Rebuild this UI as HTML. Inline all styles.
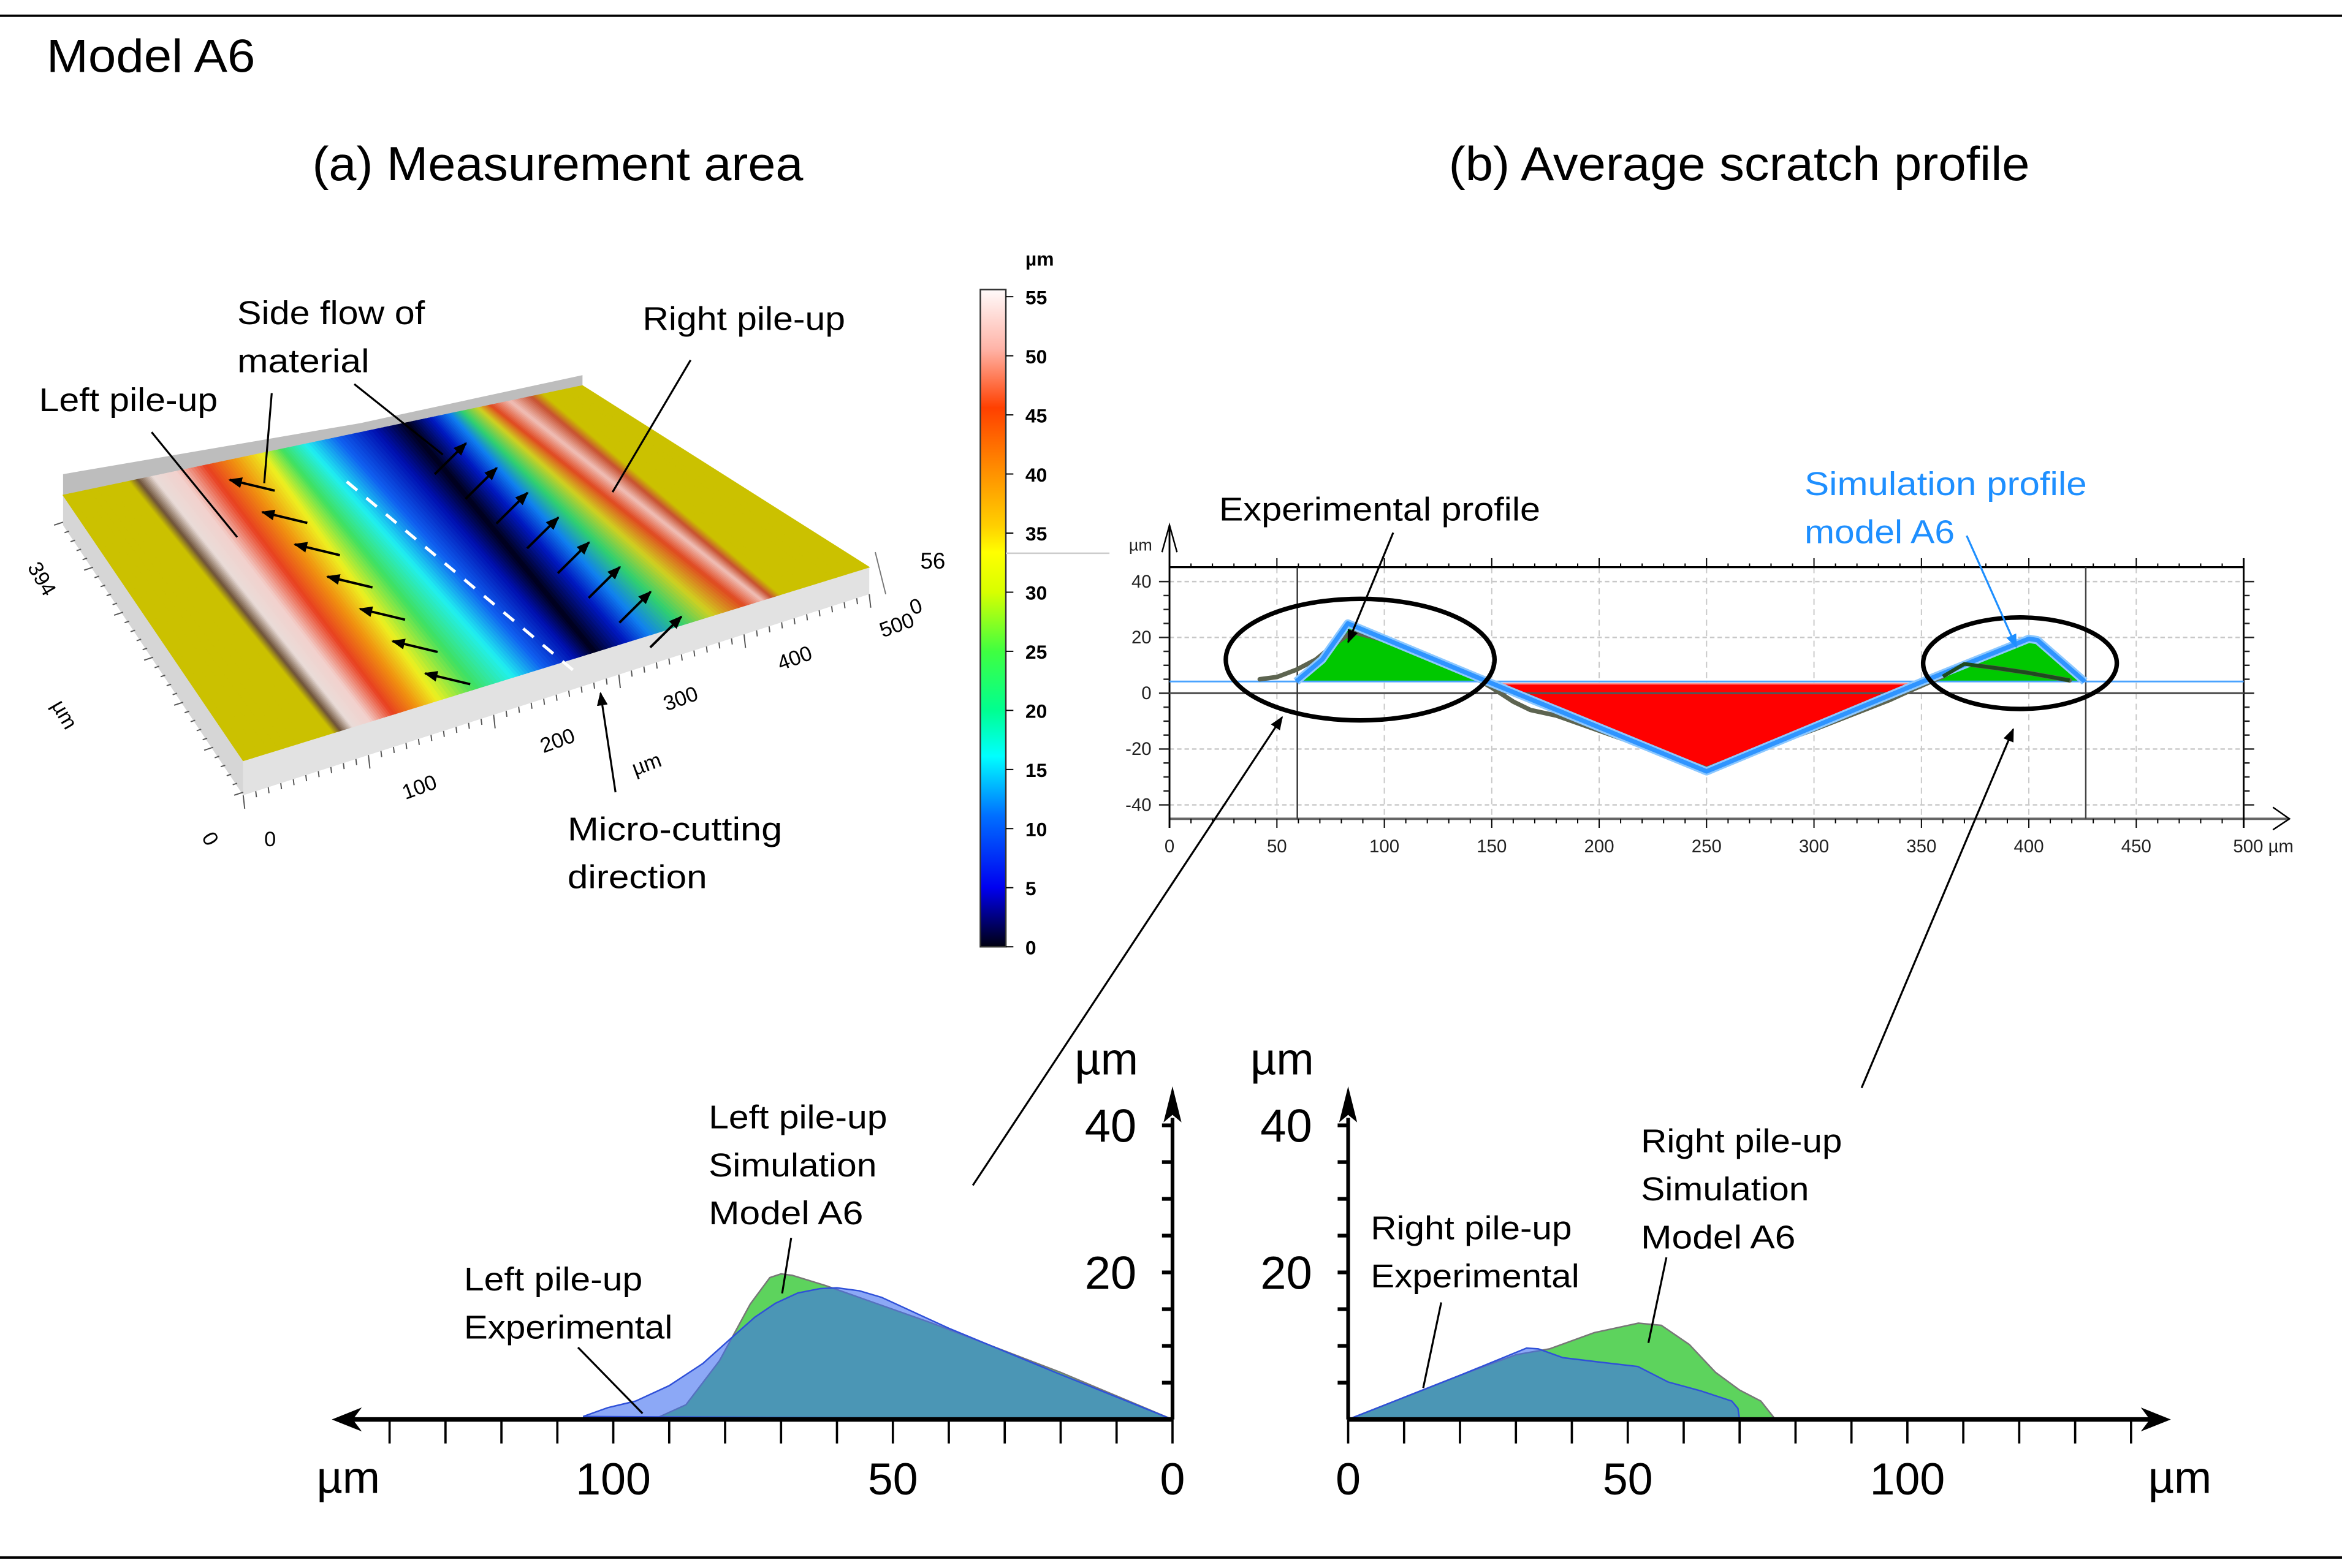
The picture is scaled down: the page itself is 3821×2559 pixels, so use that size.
<!DOCTYPE html>
<html><head><meta charset="utf-8"><style>
html,body{margin:0;padding:0;background:#fff;}
svg{display:block;}
text{font-family:"Liberation Sans",sans-serif;}
</style></head><body>
<svg id="root" xmlns="http://www.w3.org/2000/svg" width="3821" height="2559" viewBox="0 0 1560 1045" preserveAspectRatio="none">
<defs>
<marker id="ah" viewBox="0 0 10 10" refX="9" refY="5" markerWidth="9" markerHeight="9" markerUnits="userSpaceOnUse" orient="auto"><path d="M0,1 L10,5 L0,9 z" fill="#000"/></marker>
<marker id="ahb" viewBox="0 0 10 10" refX="9" refY="5" markerWidth="9" markerHeight="9" markerUnits="userSpaceOnUse" orient="auto"><path d="M0,1 L10,5 L0,9 z" fill="#1e8fff"/></marker>
<linearGradient id="cbar" x1="0" y1="0" x2="0" y2="1">
<stop offset="0" stop-color="#fffafa"/><stop offset="0.09" stop-color="#ffb4a8"/><stop offset="0.18" stop-color="#ff4000"/><stop offset="0.27" stop-color="#ff8a00"/><stop offset="0.36" stop-color="#ffd000"/><stop offset="0.40" stop-color="#ffff00"/><stop offset="0.46" stop-color="#d8ff00"/><stop offset="0.55" stop-color="#40ff40"/><stop offset="0.64" stop-color="#00ff90"/><stop offset="0.71" stop-color="#00ffff"/><stop offset="0.80" stop-color="#0070ff"/><stop offset="0.91" stop-color="#0000f0"/><stop offset="1" stop-color="#000010"/>
</linearGradient>
</defs>
<line x1="0" y1="10.5" x2="1560" y2="10.5" stroke="#000" stroke-width="1.6"/>
<line x1="0" y1="1038" x2="1560" y2="1038" stroke="#000" stroke-width="1.6"/>
<text x="31" y="48" font-size="31" textLength="139" lengthAdjust="spacingAndGlyphs">Model A6</text>
<text x="208" y="120" font-size="32" textLength="327" lengthAdjust="spacingAndGlyphs">(a) Measurement area</text>
<text x="965" y="120" font-size="32" textLength="387" lengthAdjust="spacingAndGlyphs">(b) Average scratch profile</text>

<g id="surf"></g>
<g id="cb"></g>
<g id="chartb"></g>
<g id="chl"></g>
<g id="chr"></g>
<g id="ann"></g>
</svg>
<script>
// ---------- Profile chart (b) data ----------
const simX = [0, 59, 71, 83, 147, 250, 350, 400, 404, 426, 500];
const simY = [4.2, 4.2, 12, 25, 4.5, -28, 4, 19.5, 19, 4.2, 4.2];
const expX = [42, 50, 59, 68, 76, 85, 100, 120, 140, 150, 160, 168, 180, 250, 300, 320, 335, 345, 360, 370, 385, 399, 419];
const expY = [5, 5.8, 8.4, 12, 17, 22, 19, 13, 6.5, 2, -3, -6, -8, -27, -13, -7, -2.5, 1, 6, 10.5, 9, 7.4, 4.6];
const redX = [149, 250, 348];
const redY = [3.4, -28, 3.4];
const bXTicks = [0, 50, 100, 150, 200, 250, 300, 350, 400, 450, 500];
const bYTicks = [40, 20, 0, -20, -40];
// ---------- bottom charts data ----------
const leftSimD = [0, 20, 43, 62, 68, 70, 72, 75.5, 81, 87, 92.8];
const leftSimH = [0, 6.4, 13.1, 18.2, 19.6, 19.8, 19.3, 15.7, 8, 2, 0];
const leftExpD = [0, 20.6, 40, 52, 56, 60, 63, 67, 71, 74.7, 79, 84, 90, 96, 101, 105.4];
const leftExpH = [0, 6.3, 12.4, 16.6, 17.5, 17.9, 17.8, 17.2, 15.8, 13.9, 11, 7.6, 4.6, 2.5, 1.6, 0.4];
const rightSimD = [0, 10, 20, 30, 36, 44, 51.9, 56, 61, 65.7, 70, 73.8, 76.4];
const rightSimH = [0, 3, 6, 8.8, 9.6, 11.8, 13.1, 12.8, 10.2, 6.4, 4, 2.5, 0];
const rightExpD = [0, 10, 20, 31.9, 34, 38.4, 45, 51.8, 57.2, 63, 68.6, 69.7, 70];
const rightExpH = [0, 3, 6, 9.7, 9.6, 8.4, 7.8, 7.2, 5.1, 3.9, 2.5, 1.5, 0];
const bottomXTicks = [0, 50, 100];
const bottomYTicks = [20, 40];
// ---------- 3D surface colour bands (image, not chart data) ----------
const bandCol = ['#cbc100','#cbc100','#6e5238','#eadcd8','#f2d0cc','#e84020','#f09010','#eef020','#40e060','#20f0f0','#1060f0','#0010b0','#000018','#0018c0','#1080f0','#30d070','#d0d020','#e04820','#f0c0b8','#c85030','#cbc100','#cbc100'];
const bandBack = [42,86,92,102,118,137,155,175,188,204,225,250,271,287,300,308,319,327,340,354,362,388];
const bandFront = [162,222,227,235,247,262,277,292,317,342,362,383,396,417,433,454,475,496,508,514,520,579];
const colorbarTicks = [55,50,45,40,35,30,25,20,15,10,5,0];

const NS = 'http://www.w3.org/2000/svg';
function E(parent, tag, attrs, name, inter) {
  const el = document.createElementNS(NS, tag);
  for (const k in attrs) el.setAttribute(k, attrs[k]);
  
  
  parent.appendChild(el);
  return el;
}
function T(parent, x, y, s, size, name, opts) {
  opts = opts || {};
  const el = document.createElementNS(NS, 'text');
  el.setAttribute('x', x); el.setAttribute('y', y);
  el.setAttribute('font-size', size);
  if (opts.anchor) el.setAttribute('text-anchor', opts.anchor);
  if (opts.fill) el.setAttribute('fill', opts.fill);
  if (opts.len) { el.setAttribute('textLength', opts.len); el.setAttribute('lengthAdjust', 'spacingAndGlyphs'); }
  if (opts.tr) el.setAttribute('transform', opts.tr);
  if (opts.bold) el.setAttribute('font-weight', 'bold');
  el.textContent = s;
  
  
  parent.appendChild(el);
  return el;
}
function hex2rgb(h){return [parseInt(h.substr(1,2),16),parseInt(h.substr(3,2),16),parseInt(h.substr(5,2),16)];}
function mix(a,b,t){const A=hex2rgb(a),B=hex2rgb(b);return 'rgb('+A.map((v,i)=>Math.round(v+(B[i]-v)*t)).join(',')+')';}

// ===== 3D surface =====
(function(){
  const g = document.getElementById('surf');
  const A=[42,330], B=[388,257], C=[579,378], D=[162,507];
  const backY = x => A[1] + (x - A[0]) * (B[1]-A[1])/(B[0]-A[0]);
  const frontY = x => D[1] + (x - D[0]) * (C[1]-D[1])/(C[0]-D[0]);
  E(g,'polygon',{points:'42,316 240,282 388,250 388,257 42,330',fill:'#bdbdbd'},'back-wall');
  E(g,'polygon',{points:'42,330 162,507 162,530 42,350',fill:'#d6d6d6'},'left-side-wall');
  E(g,'polygon',{points:'162,507 579,378 579,396 162,530',fill:'#e2e2e2'},'front-side-wall');
  const N=10;
  for (let i=0;i<bandBack.length-1;i++){
    for (let s=0;s<N;s++){
      const t1=s/N, t2=(s+1)/N;
      const b1=bandBack[i]+(bandBack[i+1]-bandBack[i])*t1, b2=bandBack[i]+(bandBack[i+1]-bandBack[i])*t2;
      const f1=bandFront[i]+(bandFront[i+1]-bandFront[i])*t1, f2=bandFront[i]+(bandFront[i+1]-bandFront[i])*t2;
      const col=mix(bandCol[i],bandCol[i+1],(t1+t2)/2);
      E(g,'polygon',{points:`${b1},${backY(b1)} ${b2},${backY(b2)} ${f2},${frontY(f2)} ${f1},${frontY(f1)}`,fill:col,stroke:col,'stroke-width':0.5},'surface-band');
    }
  }
  for (let k=0;k<7;k++){
    const tx=183+21.7*k, ty=327+21.5*k;
    E(g,'line',{x1:tx,y1:ty,x2:tx-30,y2:ty-7.2,stroke:'#000','stroke-width':1.6,'marker-end':'url(#ah)'},'side-flow-arrow-left');
  }
  for (let k=0;k<8;k++){
    const tx=289.6+20.5*k, ty=316+16.5*k;
    E(g,'line',{x1:tx,y1:ty,x2:tx+20.8,y2:ty-20.6,stroke:'#000','stroke-width':1.6,'marker-end':'url(#ah)'},'side-flow-arrow-right');
  }
  E(g,'line',{x1:231,y1:321,x2:387,y2:451,stroke:'#fff','stroke-width':2,'stroke-dasharray':'9,8'},'cutting-direction-dashes');
  for (let k=0;k<=30;k++){
    const x=42+120*k/30, y=348+(530-350)*k/30;
    E(g,'line',{x1:x,y1:y,x2:x-(k%5?3:6),y2:y+(k%5?1:2),stroke:'#555','stroke-width':0.8},'axis-tick');
  }
  for (let k=0;k<=50;k++){
    const x=162+(579-162)*k/50, y=530+(396-530)*k/50;
    E(g,'line',{x1:x,y1:y,x2:x+(k%10?0.5:1),y2:y+(k%10?4:9),stroke:'#555','stroke-width':0.8},'axis-tick');
  }
  E(g,'line',{x1:583,y1:368,x2:590,y2:396,stroke:'#777','stroke-width':0.8},'z-axis');
  T(g,18,378,'394',14,'y-axis-max-label',{tr:'rotate(60 18 378)'});
  T(g,34,470,'µm',14,'y-axis-unit',{tr:'rotate(60 34 470)'});
  T(g,134,558,'0',14,'y-axis-zero',{tr:'rotate(60 134 558)'});
  T(g,176,564,'0',14,'x-axis-zero');
  T(g,270,533,'100',14,'x-tick-100',{tr:'rotate(-20 270 533)'});
  T(g,362,502,'200',14,'x-tick-200',{tr:'rotate(-20 362 502)'});
  T(g,423,517,'µm',14,'x-axis-unit',{tr:'rotate(-20 423 517)'});
  T(g,444,474,'300',14,'x-tick-300',{tr:'rotate(-20 444 474)'});
  T(g,520,447,'400',14,'x-tick-400',{tr:'rotate(-20 520 447)'});
  T(g,588,425,'500',14,'x-tick-500',{tr:'rotate(-20 588 425)'});
  T(g,608,410,'0',14,'z-tick-0',{tr:'rotate(-20 608 410)'});
  T(g,613,379,'56',15,'z-tick-56');
})();

// ===== colorbar =====
(function(){
  const g=document.getElementById('cb');
  const y0=193, y1=631;
  E(g,'rect',{x:653,y:y0,width:17,height:y1-y0,fill:'url(#cbar)',stroke:'#333','stroke-width':1},'colorbar-gradient');
  const sy = v => y1 - (v/55.6)*(y1-y0);
  colorbarTicks.forEach(v=>{
    E(g,'line',{x1:670,y1:sy(v),x2:675,y2:sy(v),stroke:'#000','stroke-width':0.8},'colorbar-tick');
    T(g,683,sy(v)+5,String(v),13,'colorbar-label',{bold:true});
  });
  T(g,683,177,'µm',13,'colorbar-unit',{bold:true});
  E(g,'line',{x1:670,y1:368.7,x2:739,y2:368.7,stroke:'#ccc','stroke-width':1},'colorbar-pointer');
})();

// ===== chart b =====
(function(){
  const g=document.getElementById('chartb');
  const X = v => 779 + v*1.431;
  const Y = v => 462 - v*1.86;
  const top=378, bot=545.7;
  bXTicks.forEach(v=>{ if(v>0&&v<500) E(g,'line',{x1:X(v),y1:top,x2:X(v),y2:bot,stroke:'#c8c8c8','stroke-width':0.8,'stroke-dasharray':'4,3'},'grid-vertical'); });
  bYTicks.forEach(v=>{ if(v!==0) E(g,'line',{x1:X(0),y1:Y(v),x2:X(500),y2:Y(v),stroke:'#c8c8c8','stroke-width':1,'stroke-dasharray':'3,2'},'grid-horizontal'); });
  const seg = (xs,ys,a,b)=>{
    let pts=[];
    for(let i=0;i<xs.length;i++) if(xs[i]>=a&&xs[i]<=b) pts.push([X(xs[i]),Y(ys[i])]);
    return pts;
  };
  let lp = seg(simX,simY,59,147);
  E(g,'polygon',{points:[[X(59),Y(4)],...lp,[X(147),Y(4)]].map(p=>p.join(',')).join(' '),fill:'#00c800'},'left-pileup-area');
  let rp = seg(simX,simY,350,426);
  E(g,'polygon',{points:[[X(352),Y(4)],...rp,[X(426),Y(4)]].map(p=>p.join(',')).join(' '),fill:'#00c800'},'right-pileup-area');
  E(g,'polygon',{points:redX.map((v,i)=>X(v)+','+Y(redY[i])).join(' '),fill:'#ff0000'},'groove-area');
  E(g,'line',{x1:X(149),y1:Y(3.4),x2:X(348),y2:Y(3.4),stroke:'#ff9090','stroke-width':1},'groove-top-edge');
  E(g,'line',{x1:X(0),y1:top,x2:X(500),y2:top,stroke:'#000','stroke-width':1.3},'frame-top');
  E(g,'line',{x1:X(0),y1:bot,x2:1525,y2:bot,stroke:'#666','stroke-width':1.6},'x-axis-line');
  E(g,'polyline',{points:`1514,538 1525,545.7 1514,553`,fill:'none',stroke:'#000','stroke-width':1},'x-axis-arrow');
  E(g,'line',{x1:X(500),y1:top-6,x2:X(500),y2:bot+6,stroke:'#000','stroke-width':1.2},'frame-right');
  E(g,'line',{x1:X(0),y1:bot+6,x2:X(0),y2:350,stroke:'#000','stroke-width':1.2},'y-axis-line');
  E(g,'polyline',{points:`${X(0)-5},368 ${X(0)},350 ${X(0)+5},368`,fill:'none',stroke:'#000','stroke-width':1},'y-axis-arrow');
  E(g,'line',{x1:X(0),y1:Y(0),x2:X(500),y2:Y(0),stroke:'#555','stroke-width':1.4},'zero-line');
  E(g,'line',{x1:X(59.5),y1:top,x2:X(59.5),y2:bot,stroke:'#333','stroke-width':1},'left-cursor');
  E(g,'line',{x1:X(426.5),y1:top,x2:X(426.5),y2:bot,stroke:'#444','stroke-width':1},'right-cursor');
  for(let v=0;v<=500;v+=10){
    const big = v%50===0;
    E(g,'line',{x1:X(v),y1:top,x2:X(v),y2:top-(big?6:2.5),stroke:'#000','stroke-width':0.8},'top-tick');
    E(g,'line',{x1:X(v),y1:bot,x2:X(v),y2:bot+(big?6:3),stroke:'#000','stroke-width':0.8},'bottom-tick');
  }
  for(let v=-40;v<=40;v+=5){
    E(g,'line',{x1:X(0),y1:Y(v),x2:X(0)-(v%20===0?7:4),y2:Y(v),stroke:'#222','stroke-width':1},'left-tick');
    E(g,'line',{x1:X(500),y1:Y(v),x2:X(500)+(v%20===0?7:4),y2:Y(v),stroke:'#222','stroke-width':1},'right-tick');
  }
  bXTicks.forEach(v=>{
    T(g,v===500?X(v)-7:X(v),568,v===500?'500 µm':String(v),12,'x-tick-label',{anchor:v===500?'start':'middle',fill:'#222'});
  });
  bYTicks.forEach(v=>{ T(g,X(0)-12,Y(v)+4,String(v),12,'y-tick-label',{anchor:'end',fill:'#222'}); });
  T(g,752,367,'µm',11,'y-axis-unit',{fill:'#222'});
  E(g,'line',{x1:X(0),y1:Y(4.2),x2:X(500),y2:Y(4.2),stroke:'#4aa3ff','stroke-width':1.2},'sim-baseline');
  E(g,'polyline',{points:expX.map((v,i)=>X(v)+','+Y(expY[i])).join(' '),fill:'none',stroke:'#5d6450','stroke-width':3,'stroke-linejoin':'round','stroke-linecap':'round'},'experimental-profile-line');
  const simPts = simX.map((v,i)=>[v,simY[i]]).filter(p=>p[0]>=59&&p[0]<=426).map(p=>X(p[0])+','+Y(p[1])).join(' ');
  E(g,'polyline',{points:simPts,fill:'none',stroke:'#8cc8ff','stroke-width':5.5,'stroke-linejoin':'round'},'simulation-profile-halo');
  E(g,'polyline',{points:simPts,fill:'none',stroke:'#2f94ff','stroke-width':3,'stroke-linejoin':'round'},'simulation-profile-line');
  E(g,'polyline',{points:expX.map((v,i)=>[v,expY[i]]).filter(p=>p[0]>=360).map(p=>X(p[0])+','+Y(p[1])).join(' '),fill:'none',stroke:'#1f4a1f','stroke-width':2.5},'experimental-right-line');
  E(g,'ellipse',{cx:906,cy:439.6,rx:89.5,ry:40.5,fill:'none',stroke:'#000','stroke-width':3},'left-pileup-highlight');
  E(g,'ellipse',{cx:1345.5,cy:442,rx:64.5,ry:30.5,fill:'none',stroke:'#000','stroke-width':3},'right-pileup-highlight');
})();

// ===== bottom charts =====
function bottomChart(gid, x0, dir, simD, simH, expD, expH, side){
  const g=document.getElementById(gid);
  const base=946;
  const X = d => x0 + dir*d*3.725;
  const Y = h => base - h*4.9;
  const poly = (ds,hs) => ds.map((d,i)=>X(d)+','+Y(hs[i])).join(' ');
  E(g,'polygon',{points:poly(simD,simH),fill:'#5dd35d',stroke:'#777','stroke-width':1},side+'-simulation-area');
  E(g,'polygon',{points:poly(expD,expH),fill:'#3f6ef0','fill-opacity':0.6,stroke:'#2f50d8','stroke-width':1},side+'-experimental-area');
  const xEnd = dir<0 ? 221 : 1446;
  E(g,'line',{x1:x0,y1:base,x2:xEnd-dir*10,y2:base,stroke:'#000','stroke-width':3},side+'-x-axis');
  E(g,'polygon',{points:`${xEnd},${base} ${xEnd-dir*20},${base-8} ${xEnd-dir*14},${base} ${xEnd-dir*20},${base+8}`,fill:'#000'},side+'-x-arrow');
  for(let d=0; d<=140; d+=10){
    const x=X(d); if ((dir<0 && x<230) || (dir>0 && x>1440)) break;
    E(g,'line',{x1:x,y1:base,x2:x,y2:base+16,stroke:'#000','stroke-width':1.5},side+'-x-tick');
  }
  bottomXTicks.forEach(v=>{ T(g,X(v),996,String(v),30,side+'-x-label',{anchor:'middle'}); });
  T(g, dir<0?232:1452, 995, 'µm', 30, side+'-x-unit', {anchor:'middle'});
  E(g,'line',{x1:x0,y1:base,x2:x0,y2:745,stroke:'#000','stroke-width':2.5},side+'-y-axis');
  E(g,'polygon',{points:`${x0},724 ${x0-6},748 ${x0},743 ${x0+6},748`,fill:'#000'},side+'-y-arrow');
  for(let h=5;h<=40;h+=5){
    E(g,'line',{x1:x0,y1:Y(h),x2:x0-7,y2:Y(h),stroke:'#000','stroke-width':2.5},side+'-y-tick');
  }
  bottomYTicks.forEach(v=>{ T(g,x0-24,Y(v)+11,String(v),31,side+'-y-label',{anchor:'end'}); });
  T(g,x0-44,716,'µm',30,side+'-y-unit',{anchor:'middle'});
}
bottomChart('chl', 781, -1, leftSimD, leftSimH, leftExpD, leftExpH, 'left');
bottomChart('chr', 898, 1, rightSimD, rightSimH, rightExpD, rightExpH, 'right');

// ===== annotations =====
(function(){
  const g=document.getElementById('ann');
  const L=(x1,y1,x2,y2,name,arrow,col)=>E(g,'line',{x1,y1,x2,y2,stroke:col||'#000','stroke-width':1.3,'marker-end':arrow?(col?'url(#ahb)':'url(#ah)'):'none'},name);
  const fs=22;
  T(g,158,216,'Side flow of',fs,'label-side-flow',{len:125});
  T(g,158,248,'material',fs,'label-material',{len:88});
  T(g,26,274,'Left pile-up',fs,'label-left-pileup',{len:119});
  T(g,428,220,'Right pile-up',fs,'label-right-pileup',{len:135});
  T(g,378,560,'Micro-cutting',fs,'label-micro-cutting',{len:143});
  T(g,378,592,'direction',fs,'label-direction',{len:93});
  L(101,288,158,358,'leader-left-pileup');
  L(181,262,176,322,'leader-side-flow');
  L(236,256,295,303,'leader-material');
  L(460,240,408,328,'leader-right-pileup');
  L(410,528,400,462,'leader-micro-cutting',true);
  T(g,812,347,'Experimental profile',fs,'label-experimental-profile',{len:214});
  T(g,1202,330,'Simulation profile',fs,'label-simulation-profile',{fill:'#1e8fff',len:188});
  T(g,1202,362,'model A6',fs,'label-model-a6',{fill:'#1e8fff',len:100});
  L(928,355,898,428,'leader-experimental-profile',true);
  L(1310,357,1343,431,'leader-simulation-profile',true,'#1e8fff');
  L(648,790,854,478,'zoom-arrow-left',true);
  L(1240,725,1341,486,'zoom-arrow-right',true);
  T(g,472,752,'Left pile-up',fs,'label-left-sim-1',{len:119});
  T(g,472,784,'Simulation',fs,'label-left-sim-2',{len:112});
  T(g,472,816,'Model A6',fs,'label-left-sim-3',{len:103});
  L(527,825,521,862,'leader-left-sim');
  T(g,309,860,'Left pile-up',fs,'label-left-exp-1',{len:119});
  T(g,309,892,'Experimental',fs,'label-left-exp-2',{len:139});
  L(385,898,428,942,'leader-left-exp');
  T(g,913,826,'Right pile-up',fs,'label-right-exp-1',{len:134});
  T(g,913,858,'Experimental',fs,'label-right-exp-2',{len:139});
  L(960,868,948,925,'leader-right-exp');
  T(g,1093,768,'Right pile-up',fs,'label-right-sim-1',{len:134});
  T(g,1093,800,'Simulation',fs,'label-right-sim-2',{len:112});
  T(g,1093,832,'Model A6',fs,'label-right-sim-3',{len:103});
  L(1110,838,1098,895,'leader-right-sim');
})();
</script>
</body></html>
